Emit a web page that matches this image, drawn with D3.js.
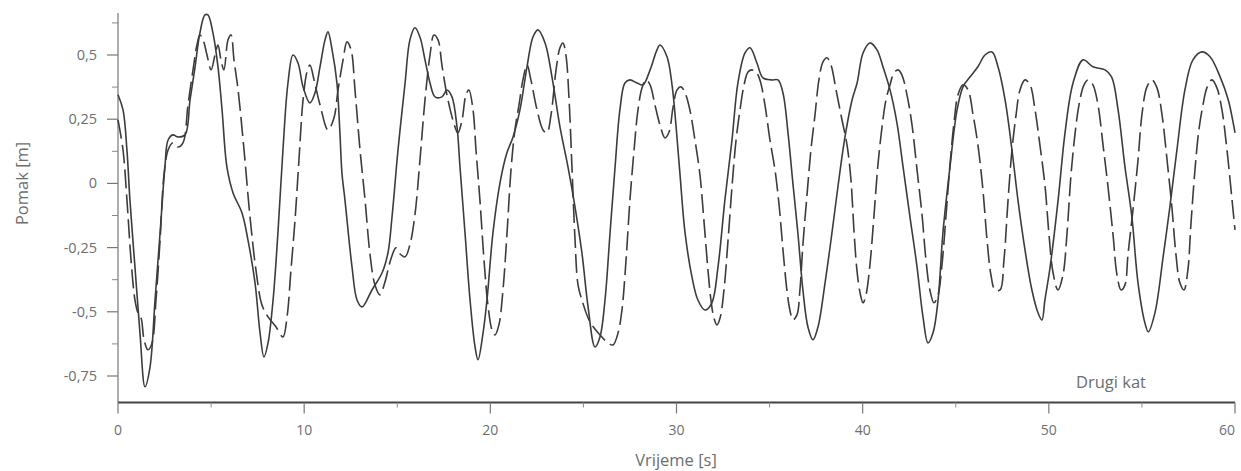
<!DOCTYPE html>
<html>
<head>
<meta charset="utf-8">
<script src="https://cdn.jsdelivr.net/npm/d3@7"></script>
<style>
  body { margin: 0; background: #fff; }
  text { font-family: "Open Sans", sans-serif; fill: #6e6e6e; }
</style>
</head>
<body>
<svg width="1241" height="471"></svg>
<script>
// solid series (t in s, displacement in m)
var solidT = [0, .27, .48, .64, .91, 1.18, 1.45, 1.72, 1.99, 2.26, 2.52, 2.69, 2.95, 3.22, 3.6, 3.87, 4.14, 4.4, 4.67, 4.83,
  5.1, 5.37, 5.59, 5.85, 6.18, 6.66, 6.98, 7.36, 7.63, 7.84, 8.06, 8.33, 8.59, 8.86, 9.13, 9.4, 9.67, 9.94, 10.31, 10.58,
  10.85, 11.12, 11.28, 11.5, 11.76, 11.92, 12.03, 12.19, 12.57, 12.84, 13.11, 13.64, 14.18, 14.5, 14.72, 15.04, 15.42, 15.68, 15.95, 16.22,
  16.49, 16.76, 17.03, 17.4, 17.67, 17.94, 18.21, 18.37, 18.64, 18.91, 19.18, 19.34, 19.61, 19.82, 20.14, 20.52, 20.89, 21.22, 21.59, 21.97,
  22.29, 22.56, 22.94, 23.31, 23.74, 24.17, 24.55, 24.92, 25.25, 25.62, 25.89, 26.16, 26.43, 26.7, 26.96, 27.23, 27.5, 27.88, 28.2, 28.58,
  28.95, 29.11, 29.49, 29.76, 29.97, 30.19, 30.46, 30.83, 31.15, 31.53, 31.9, 32.23, 32.6, 32.98, 33.3, 33.68, 33.95, 34.32, 34.64, 35.1,
  35.45, 35.72, 35.99, 36.25, 36.52, 36.79, 37.06, 37.33, 37.6, 37.98, 38.35, 38.67, 39.05, 39.43, 39.7, 40.02, 40.39, 40.77, 41.09, 41.47,
  41.84, 42.17, 42.54, 42.92, 43.24, 43.51, 43.78, 44.05, 44.31, 44.69, 45.07, 45.39, 45.77, 46.19, 46.57, 46.95, 47.27, 47.65, 48.02, 48.34,
  48.72, 49.09, 49.42, 49.63, 49.79, 50.07, 50.5, 50.87, 51.3, 51.84, 52.37, 53.02, 53.37, 53.72, 54.09, 54.46, 54.79, 55.16, 55.34, 55.7,
  56.14, 56.5, 56.88, 57.31, 57.74, 58.23, 58.66, 59.2, 59.64, 60];
var solidV = [.345, .286, .13, -.064, -.325, -.582, -.792, -.715, -.454, -.193, .064, .169, .189, .181, .189, .325, .454, .586, .656, .656,
  .586, .454, .286, .064, -.037, -.115, -.22, -.387, -.582, -.676, -.621, -.454, -.193, .13, .391, .5, .469, .376, .313, .352,
  .454, .559, .59, .52, .391, .197, .04, -.064, -.325, -.454, -.481, -.415, -.349, -.271, -.13, .13, .391, .559, .606, .57,
  .481, .391, .337, .337, .364, .337, .22, .064, -.193, -.454, -.637, -.687, -.582, -.454, -.193, .002, .119, .181, .286, .454,
  .57, .598, .547, .415, .22, .064, -.092, -.271, -.481, -.637, -.598, -.454, -.193, .064, .286, .391, .403, .391, .384, .442,
  .52, .539, .493, .384, .228, .033, -.193, -.364, -.454, -.493, -.465, -.325, -.064, .169, .391, .508, .528, .469, .411, .403,
  .403, .352, .197, .002, -.193, -.415, -.559, -.609, -.559, -.387, -.193, -.014, .181, .325, .391, .508, .547, .52, .454, .364,
  .236, .064, -.13, -.325, -.52, -.621, -.582, -.454, -.193, .064, .286, .376, .415, .454, .5, .512, .454, .325, .13, -.064,
  -.259, -.415, -.504, -.532, -.454, -.325, -.064, .197, .391, .481, .454, .442, .415, .286, .064, -.13, -.387, -.543, -.578, -.504,
  -.286, -.092, .13, .364, .481, .512, .493, .415, .325, .197];

// dashed series
var dashT = [0, .27, .48, .7, .91, 1.07, 1.24, 1.4, 1.61, 1.83, 2.04, 2.26, 2.47, 2.69, 2.95, 3.22, 3.49, 3.76, 4.03, 4.24,
  4.4, 4.57, 4.78, 5.0, 5.21, 5.37, 5.53, 5.69, 5.91, 6.07, 6.23, 6.45, 6.77, 7.09, 7.41, 7.73, 8.06, 8.49, 8.86, 9.08,
  9.29, 9.51, 9.72, 9.94, 10.15, 10.31, 10.53, 10.85, 11.28, 11.6, 11.82, 12.09, 12.3, 12.52, 12.73, 13.0, 13.27, 13.54, 13.8, 14.07,
  14.34, 14.61, 14.93, 15.15, 15.42, 15.68, 15.95, 16.22, 16.49, 16.76, 16.97, 17.19, 17.4, 17.67, 17.99, 18.26, 18.48, 18.69, 18.85, 19.07,
  19.23, 19.44, 19.66, 19.87, 20.09, 20.25, 20.46, 20.68, 20.89, 21.11, 21.32, 21.54, 21.75, 21.97, 22.18, 22.51, 22.83, 23.04, 23.26, 23.53,
  23.74, 23.9, 24.06, 24.23, 24.39, 24.55, 24.71, 24.92, 25.35, 25.89, 26.32, 26.59, 26.86, 27.07, 27.29, 27.5, 27.72, 27.93, 28.15, 28.36,
  28.58, 28.84, 29.11, 29.38, 29.6, 29.81, 30.03, 30.24, 30.46, 30.72, 30.99, 31.26, 31.47, 31.69, 31.85, 32.01, 32.17, 32.34, 32.55, 32.77,
  32.98, 33.2, 33.41, 33.63, 33.84, 34.05, 34.27, 34.48, 34.75, 35.02, 35.29, 35.51, 35.72, 35.93, 36.09, 36.25, 36.47, 36.63, 36.79, 37.01,
  37.22, 37.44, 37.65, 37.87, 38.08, 38.3, 38.57, 38.89, 39.16, 39.37, 39.53, 39.69, 39.86, 40.02, 40.18, 40.39, 40.61, 40.82, 41.04, 41.25,
  41.47, 41.68, 41.9, 42.11, 42.38, 42.65, 42.92, 43.19, 43.4, 43.61, 43.83, 44.05, 44.26, 44.48, 44.69, 44.91, 45.12, 45.39, 45.66, 45.93,
  46.19, 46.46, 46.68, 46.89, 47.11, 47.38, 47.59, 47.81, 48.02, 48.24, 48.45, 48.72, 48.99, 49.26, 49.52, 49.79, 50.01, 50.22, 50.49, 50.76,
  50.97, 51.19, 51.4, 51.62, 51.89, 52.1, 52.37, 52.64, 52.91, 53.18, 53.45, 53.66, 53.88, 54.09, 54.25, 54.52, 54.79, 55.0, 55.27, 55.54,
  55.81, 56.08, 56.35, 56.61, 56.83, 57.04, 57.26, 57.47, 57.63, 57.85, 58.06, 58.28, 58.49, 58.76, 59.03, 59.3, 59.57, 59.84, 60];
var dashV = [.247, .13, -.064, -.298, -.454, -.504, -.524, -.609, -.648, -.621, -.454, -.22, .033, .13, .158, .142, .158, .306, .442, .539,
  .578, .559, .5, .442, .5, .539, .481, .442, .559, .578, .481, .364, .13, -.13, -.337, -.473, -.52, -.559, -.598, -.52,
  -.337, -.142, .091, .325, .434, .461, .403, .306, .208, .255, .364, .481, .551, .52, .364, .13, -.064, -.278, -.395, -.434,
  -.384, -.306, -.251, -.275, -.286, -.239, -.123, .091, .325, .5, .578, .559, .461, .345, .247, .197, .247, .345, .364, .286,
  .13, -.064, -.298, -.473, -.571, -.59, -.551, -.415, -.201, .053, .208, .306, .403, .461, .403, .286, .208, .197, .267, .442,
  .528, .547, .5, .325, .053, -.22, -.395, -.454, -.539, -.59, -.621, -.629, -.582, -.493, -.298, -.064, .13, .286, .372, .403,
  .384, .306, .228, .177, .2, .294, .364, .376, .352, .286, .169, .033, -.142, -.337, -.454, -.524, -.551, -.524, -.415, -.22,
  -.014, .169, .286, .384, .434, .442, .434, .403, .306, .169, .053, -.084, -.259, -.415, -.493, -.532, -.512, -.415, -.239, -.045,
  .13, .267, .403, .473, .489, .461, .364, .247, .15, .014, -.181, -.337, -.426, -.465, -.434, -.317, -.123, .072, .22, .325,
  .384, .43, .442, .422, .345, .228, .053, -.123, -.298, -.415, -.465, -.434, -.317, -.123, .072, .239, .345, .384, .364, .267,
  .15, -.025, -.22, -.356, -.415, -.415, -.298, -.064, .13, .267, .364, .403, .384, .286, .15, -.006, -.201, -.345, -.415, -.356,
  -.201, .033, .189, .306, .384, .403, .384, .306, .15, -.014, -.201, -.356, -.415, -.395, -.278, -.103, .091, .267, .376, .403,
  .372, .267, .091, -.092, -.278, -.387, -.415, -.337, -.162, .053, .208, .306, .372, .403, .372, .286, .13, -.064, -.181];

var xTicks = [0, 10, 20, 30, 40, 50, 60];
var xMinor = [5, 15, 25, 35, 45, 55];
var yTicks = [-0.75, -0.5, -0.25, 0, 0.25, 0.5];
var yMinor = [-0.625, -0.375, -0.125, 0.125, 0.375, 0.625];

var svg = d3.select("svg"),
    width = +svg.attr("width");

var x = d3.scaleLinear().domain([0, 60]).range([118, 1235]);
var y = d3.scaleLinear().domain([-0.75, 0.5]).range([376, 55]);
var yBottom = -0.853, yTop = 0.664;

var fmt = function(d) { return String(d).replace(".", ","); };

// y axis
var yAxis = svg.append("g").attr("transform", "translate(" + x(0) + ",0)");
yAxis.append("line")
    .attr("y1", y(yTop)).attr("y2", y(yBottom))
    .attr("stroke", "#777").attr("stroke-width", 1.2);
yAxis.selectAll(".ymaj").data(yTicks).enter().append("line")
    .attr("x1", -11).attr("x2", 0)
    .attr("y1", function(d) { return y(d); }).attr("y2", function(d) { return y(d); })
    .attr("stroke", "#777").attr("stroke-width", 1.2);
yAxis.selectAll(".ymin").data(yMinor).enter().append("line")
    .attr("x1", -6).attr("x2", 0)
    .attr("y1", function(d) { return y(d); }).attr("y2", function(d) { return y(d); })
    .attr("stroke", "#888").attr("stroke-width", 1);
yAxis.selectAll(".ylab").data(yTicks).enter().append("text")
    .attr("x", -21).attr("y", function(d) { return y(d); })
    .attr("dy", "0.35em").attr("text-anchor", "end")
    .attr("font-size", 14.5)
    .text(fmt);

// x axis
var xAxis = svg.append("g").attr("transform", "translate(0," + y(yBottom) + ")");
xAxis.append("line")
    .attr("x1", x(0)).attr("x2", x(60))
    .attr("stroke", "#444").attr("stroke-width", 2);
xAxis.selectAll(".xmaj").data(xTicks).enter().append("line")
    .attr("x1", function(d) { return x(d); }).attr("x2", function(d) { return x(d); })
    .attr("y1", 0).attr("y2", 11)
    .attr("stroke", "#777").attr("stroke-width", 1.2);
xAxis.selectAll(".xmin").data(xMinor).enter().append("line")
    .attr("x1", function(d) { return x(d); }).attr("x2", function(d) { return x(d); })
    .attr("y1", 0).attr("y2", 5)
    .attr("stroke", "#888").attr("stroke-width", 1);
// last label sits flush against the right edge, as in the original
xAxis.selectAll(".xlab").data(xTicks).enter().append("text")
    .attr("x", function(d) { return Math.min(x(d), width - 1); })
    .attr("y", 28)
    .attr("dy", "0.35em")
    .attr("text-anchor", function(d) { return x(d) + 9 > width ? "end" : "middle"; })
    .attr("font-size", 14)
    .text(fmt);

// titles
svg.append("text")
    .attr("transform", "translate(22," + y(0) + ") rotate(-90)")
    .attr("text-anchor", "middle").attr("dy", "0.35em")
    .attr("font-size", 16.5)
    .text("Pomak [m]");
svg.append("text")
    .attr("x", 676).attr("y", 460).attr("dy", "0.35em")
    .attr("text-anchor", "middle")
    .attr("font-size", 16.5)
    .text("Vrijeme [s]");
svg.append("text")
    .attr("x", 1076).attr("y", 382).attr("dy", "0.35em")
    .attr("font-size", 16.5)
    .text("Drugi kat");

// series
var line = d3.line()
    .x(function(d) { return x(d[0]); })
    .y(function(d) { return y(d[1]); })
    .curve(d3.curveCatmullRom.alpha(0.5));

var solid = d3.zip(solidT, solidV);
var dashed = d3.zip(dashT, dashV);

svg.append("path")
    .datum(dashed)
    .attr("d", line)
    .attr("fill", "none")
    .attr("stroke", "#3c3c3c")
    .attr("stroke-width", 1.6)
    .attr("stroke-dasharray", "19,6");

svg.append("path")
    .datum(solid)
    .attr("d", line)
    .attr("fill", "none")
    .attr("stroke", "#3c3c3c")
    .attr("stroke-width", 1.6);
</script>
</body>
</html>
